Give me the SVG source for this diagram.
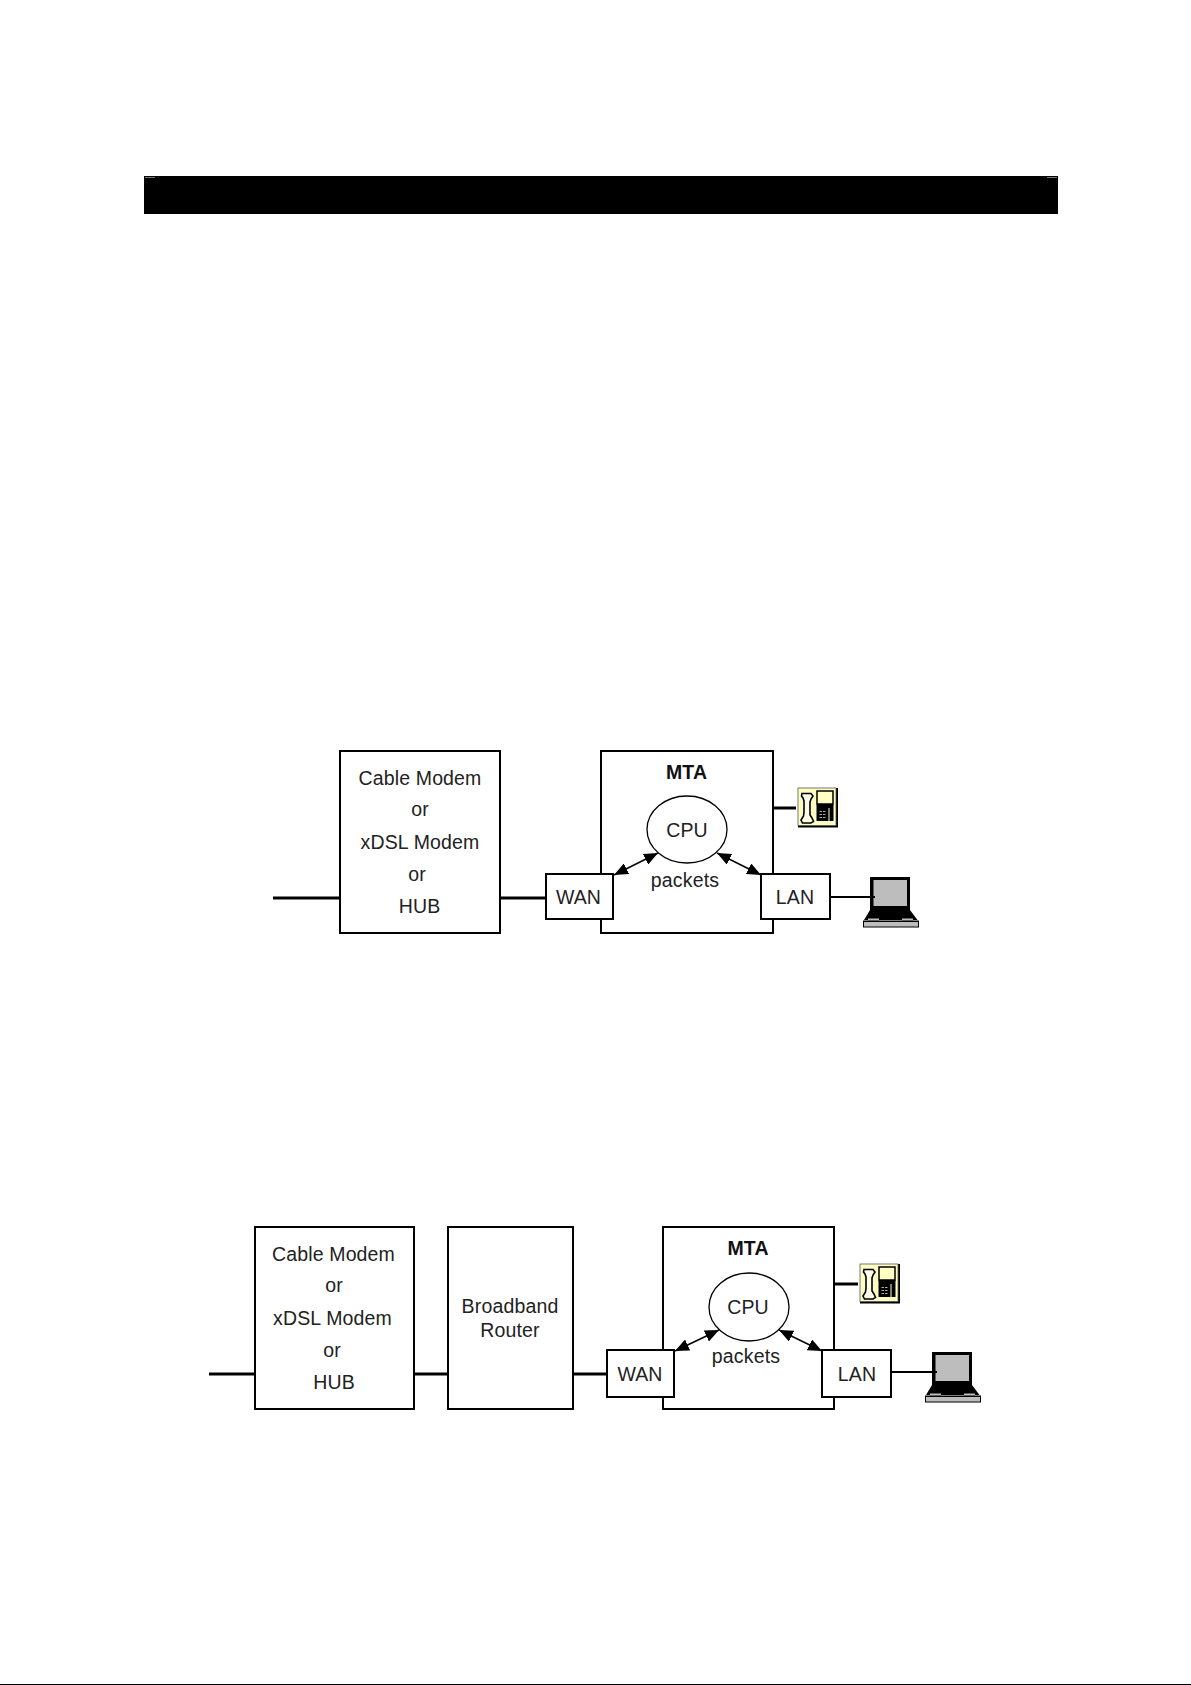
<svg xmlns="http://www.w3.org/2000/svg" xmlns:xlink="http://www.w3.org/1999/xlink" width="1191" height="1685" viewBox="0 0 1191 1685">
<style>
.box{fill:#fff;stroke:#000;stroke-width:2}
.cpu{fill:#fff;stroke:#000;stroke-width:1.3}
.t{font-family:"Liberation Sans",Arial,sans-serif;font-size:19.5px;letter-spacing:0.15px;fill:#222;text-anchor:middle}
.b{font-weight:bold;fill:#111}
.thick{stroke:#000;stroke-width:3;fill:none}
.thin{stroke:#000;stroke-width:2;fill:none}
.arr{stroke:#000;stroke-width:1.5;fill:none;marker-start:url(#ah);marker-end:url(#ah)}
</style>
<defs>
<marker id="ah" viewBox="0 0 14 12" refX="14" refY="6" markerWidth="14" markerHeight="12" markerUnits="userSpaceOnUse" orient="auto-start-reverse"><path d="M0 0L14 6L0 12Z" fill="#000"/></marker>
<g id="phone">
<rect x="0" y="0" width="40" height="39.500" fill="#000"/>
<rect x="0" y="0" width="38" height="37.500" fill="#ffffc4" stroke="#555" stroke-width="0.8"/>
<path d="M4 5.500L13 5.500L15 8L13 11L12 14L12 27L14 30L15.500 33.500L13 35L4.500 35L3 32L5.500 28L6 24L6 13L5 10L3.500 8Z" fill="#ffffe8" stroke="#000" stroke-width="1.6"/>
<rect x="19" y="3" width="16" height="13" fill="#ffffc4" stroke="#000" stroke-width="1.5"/>
<path d="M18.500 16H35.500V33H18.500Z" fill="#000"/>
<path d="M31 20V33" stroke="#ffffc4" stroke-width="1"/>
<path d="M21.500 23.500H28.500M21.500 26.500H28.500M21.500 29.500H28.500" stroke="#aaa" stroke-width="1" stroke-dasharray="2.500 1"/>
</g>
<g id="laptop">
<rect x="0" y="0" width="40" height="33" fill="#000"/>
<rect x="3.500" y="3" width="33.500" height="26" fill="#bdbdbd"/>
<path d="M0 33H40L47.500 43H-6Z" fill="#000"/>
<rect x="-2" y="41.500" width="11" height="3.500" fill="#bdbdbd"/>
<rect x="32" y="41.500" width="11" height="3.500" fill="#bdbdbd"/>
<path d="M-7 43.500H49V50.500H-7Z" fill="#000"/>
<rect x="-6" y="45" width="54" height="4.500" fill="#bdbdbd"/>
</g>
</defs>
<rect width="1191" height="1685" fill="#fff"/>
<g id="title-bar">
<rect x="144" y="176" width="914" height="38" fill="#000"/>
<rect x="145" y="177" width="10" height="1" fill="#777"/>
<rect x="1047" y="177" width="10" height="1" fill="#777"/>
</g>

<g id="modem1"><rect class="box" x="340" y="751" width="160" height="182"/>
<text class="t" x="420" y="785">Cable Modem</text><text class="t" x="420" y="816">or</text><text class="t" x="420" y="849">xDSL Modem</text><text class="t" x="417" y="881">or</text><text class="t" x="419.500" y="913">HUB</text></g>
<g id="mta1"><rect class="box" x="601" y="751" width="172" height="182"/>
<text class="t b" x="686.500" y="779">MTA</text><text class="t" x="685" y="887">packets</text></g>
<g id="cpu1"><ellipse class="cpu" cx="687" cy="829.500" rx="40" ry="33.500"/><text class="t" x="687" y="837">CPU</text></g>
<g id="wan1"><rect class="box" x="546" y="874" width="67" height="45"/><rect x="545" y="918" width="69" height="2" fill="#000"/><text class="t" x="578.500" y="904">WAN</text></g>
<g id="lan1"><rect class="box" x="761" y="874" width="69" height="45"/><rect x="760" y="918" width="71" height="2" fill="#000"/><text class="t" x="795" y="904">LAN</text></g>
<g id="phone1"><use href="#phone" x="798" y="788"/></g>
<g id="laptop1"><use href="#laptop" x="870" y="877"/></g>

<g id="modem2"><rect class="box" x="255" y="1227" width="159" height="182"/>
<text class="t" x="333.500" y="1261">Cable Modem</text><text class="t" x="334" y="1292">or</text><text class="t" x="332.500" y="1325">xDSL Modem</text><text class="t" x="332" y="1357">or</text><text class="t" x="334" y="1389">HUB</text></g>
<g id="router2"><rect class="box" x="448" y="1227" width="125" height="182"/>
<text class="t" x="510" y="1313">Broadband</text><text class="t" x="510" y="1337">Router</text></g>
<g id="mta2"><rect class="box" x="663" y="1227" width="171" height="182"/>
<text class="t b" x="748" y="1255">MTA</text><text class="t" x="746" y="1363">packets</text></g>
<g id="cpu2"><ellipse class="cpu" cx="749" cy="1307" rx="40" ry="34"/><text class="t" x="748" y="1314">CPU</text></g>
<g id="wan2"><rect class="box" x="607" y="1350" width="67" height="47"/><text class="t" x="640" y="1381">WAN</text></g>
<g id="lan2"><rect class="box" x="822" y="1350" width="69" height="47"/><text class="t" x="857" y="1381">LAN</text></g>
<g id="phone2"><use href="#phone" x="860" y="1264"/></g>
<g id="laptop2"><use href="#laptop" x="932" y="1352"/></g>

<g id="connectors">
<path class="thick" d="M273 898H340"/>
<path class="thick" d="M500 898H546"/>
<path class="thick" d="M773 808H796"/>
<path class="thin" d="M830 897H875"/>
<path class="arr" d="M614 875L658 853"/>
<path class="arr" d="M717 853L761 875"/>
<path class="thick" d="M209 1374H255"/>
<path class="thick" d="M414 1374H448"/>
<path class="thick" d="M573 1374H607"/>
<path class="thick" d="M834 1284H858"/>
<path class="thin" d="M891 1372H937"/>
<path class="arr" d="M675 1351L719 1330"/>
<path class="arr" d="M779 1330L822 1351"/>
</g>
<rect id="bottom-edge" x="0" y="1684" width="1191" height="1" fill="#000"/>
</svg>
